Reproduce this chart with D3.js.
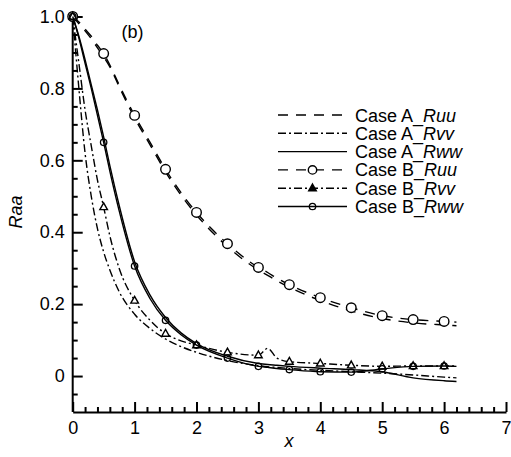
<!DOCTYPE html>
<html>
<head>
<meta charset="utf-8">
<script src="https://cdn.jsdelivr.net/npm/d3@7"></script>
<style>
  body { margin: 0; background: #fff; }
  svg { display: block; font-family: "Liberation Sans", Arial, sans-serif; }
  .axis path, .axis line { stroke: #000; stroke-width: 2; fill: none; }
  .axis text { font-size: 18px; fill: #000; font-family: "Liberation Sans", Arial, sans-serif; }
  .curve { fill: none; stroke: #000; stroke-width: 1.4; }
</style>
</head>
<body>
<svg id="chart" width="511" height="457"></svg>
<script>
// x positions shared by all curves (markers only at every 0.5)
const xGrid = [0, 0.1, 0.2, 0.3, 0.4, 0.5, 0.6, 0.75, 1, 1.25, 1.5, 1.75, 2, 2.5, 3, 3.15, 3.3, 3.5, 4, 4.5, 5, 5.5, 6, 6.2];

const caseA_Ruu = [1, 0.98, 0.96, 0.938, 0.913, 0.888, 0.86, 0.805, 0.718, 0.643, 0.568, 0.503, 0.448, 0.36, 0.295, 0.28, 0.265, 0.247, 0.21, 0.181, 0.16, 0.148, 0.142, 0.14];
const caseA_Rvv = [1, 0.8, 0.62, 0.5, 0.41, 0.345, 0.295, 0.235, 0.172, 0.132, 0.103, 0.082, 0.066, 0.043, 0.029, 0.026, 0.024, 0.021, 0.016, 0.012, 0.008, 0.003, -0.003, -0.005];
const caseA_Rww = [1, 0.945, 0.88, 0.81, 0.74, 0.665, 0.585, 0.475, 0.318, 0.225, 0.163, 0.12, 0.09, 0.055, 0.035, 0.032, 0.03, 0.027, 0.022, 0.018, 0.012, -0.005, -0.013, -0.015];
const caseB_Ruu = [1, 0.985, 0.965, 0.945, 0.92, 0.897, 0.865, 0.81, 0.725, 0.65, 0.575, 0.51, 0.455, 0.368, 0.302, 0.288, 0.272, 0.254, 0.218, 0.19, 0.168, 0.157, 0.152, 0.15];
const caseB_Rvv = [1, 0.87, 0.74, 0.64, 0.545, 0.47, 0.39, 0.3, 0.21, 0.155, 0.118, 0.098, 0.086, 0.066, 0.058, 0.077, 0.05, 0.04, 0.035, 0.03, 0.027, 0.028, 0.028, 0.028];
const caseB_Rww = [1, 0.94, 0.87, 0.8, 0.725, 0.65, 0.57, 0.46, 0.306, 0.215, 0.155, 0.115, 0.086, 0.05, 0.027, 0.024, 0.021, 0.018, 0.012, 0.011, 0.02, 0.027, 0.028, 0.027];

const xTicks = [0, 1, 2, 3, 4, 5, 6, 7];
const yTicks = [0, 0.2, 0.4, 0.6, 0.8, 1.0];
const yTickLabels = ["0", "0.2", "0.4", "0.6", "0.8", "1.0"];
const xMinor = [0.2,0.4,0.6,0.8,1.2,1.4,1.6,1.8,2.2,2.4,2.6,2.8,3.2,3.4,3.6,3.8,4.2,4.4,4.6,4.8,5.2,5.4,5.6,5.8,6.2,6.4,6.6,6.8];
const yMinor = [-0.05, 0.05, 0.1, 0.15, 0.25, 0.3, 0.35, 0.45, 0.5, 0.55, 0.65, 0.7, 0.75, 0.85, 0.9, 0.95];

const seriesNames = ["Case A_", "Case A_", "Case A_", "Case B_", "Case B_", "Case B_"];
const seriesComps = ["Ruu", "Rvv", "Rww", "Ruu", "Rvv", "Rww"];

const dashRuu = "10,8";
const dashRvv = "8,3,2,3";

const series = [
  { values: caseA_Ruu, dash: dashRuu, marker: null },
  { values: caseA_Rvv, dash: dashRvv, marker: null },
  { values: caseA_Rww, dash: null, marker: null },
  { values: caseB_Ruu, dash: dashRuu, marker: "circle" },
  { values: caseB_Rvv, dash: dashRvv, marker: "triangle" },
  { values: caseB_Rww, dash: null, marker: "small" }
];

const svg = d3.select("#chart");
svg.append("rect").attr("width", 511).attr("height", 457).attr("fill", "#fff");

const x = d3.scaleLinear().domain([0, 7]).range([72.7, 506]);
const y = d3.scaleLinear().domain([-0.1, 1.0]).range([412, 16.5]);

// minor ticks
svg.append("g").attr("class", "axis")
  .attr("transform", "translate(0,412)")
  .call(d3.axisBottom(x).tickValues(xMinor).tickSize(-5).tickSizeOuter(0).tickFormat(""))
  .call(g => g.select(".domain").remove());
svg.append("g").attr("class", "axis")
  .attr("transform", "translate(72.7,0)")
  .call(d3.axisLeft(y).tickValues(yMinor).tickSize(-5).tickSizeOuter(0).tickFormat(""))
  .call(g => g.select(".domain").remove());

// major axes
svg.append("g").attr("class", "axis")
  .attr("transform", "translate(0,412)")
  .call(d3.axisBottom(x).tickValues(xTicks).tickSize(-10).tickSizeOuter(0).tickPadding(9)
    .tickFormat(d => String(d)));
svg.append("g").attr("class", "axis")
  .attr("transform", "translate(72.7,0)")
  .call(d3.axisLeft(y).tickValues(yTicks).tickSize(-10).tickSizeOuter(0).tickPadding(8)
    .tickFormat((d, i) => yTickLabels[i]))
  .call(g => g.select(".domain").attr("d", "M0," + y(-0.1) + "V" + y(1.0)));

// curves
const line = d3.line()
  .x((d, i) => x(xGrid[i]))
  .y(d => y(d))
  .curve(d3.curveMonotoneX);

const triPath = "M0,-4.2L3.8,2.6L-3.8,2.6Z";

function drawMarker(g, kind, cx, cy, legend) {
  if (kind === "circle") {
    g.append("circle").attr("cx", cx).attr("cy", cy).attr("r", legend ? 4.2 : 4.8)
      .attr("fill", "#fff").attr("stroke", "#000").attr("stroke-width", 1.4);
  } else if (kind === "triangle") {
    g.append("path").attr("d", triPath).attr("transform", "translate(" + cx + "," + cy + ")")
      .attr("fill", legend ? "#000" : "#fff").attr("stroke", "#000").attr("stroke-width", 1.4);
  } else if (kind === "small") {
    g.append("circle").attr("cx", cx).attr("cy", cy).attr("r", 3.2)
      .attr("fill", "none").attr("stroke", "#000").attr("stroke-width", 1.3);
  }
}

series.forEach(s => {
  svg.append("path")
    .datum(s.values)
    .attr("class", "curve")
    .attr("d", line)
    .attr("stroke-dasharray", s.dash);
  if (s.marker) {
    const mg = svg.append("g");
    s.values.forEach((v, i) => {
      const xv = xGrid[i];
      if (Math.abs(xv * 2 - Math.round(xv * 2)) < 1e-9 && xv <= 6) {
        drawMarker(mg, s.marker, x(xv), y(v), false);
      }
    });
  }
});

// panel label
svg.append("text").attr("x", 121.5).attr("y", 38).attr("font-size", 18).text("(b)");

// axis titles
svg.append("text")
  .attr("transform", "translate(22,212) rotate(-90)")
  .attr("text-anchor", "middle").attr("font-size", 18).attr("font-style", "italic")
  .text("Raa");
svg.append("text")
  .attr("x", 289).attr("y", 447)
  .attr("text-anchor", "middle").attr("font-size", 18).attr("font-style", "italic")
  .text("x");

// legend
const legend = svg.append("g");
series.forEach((s, i) => {
  const ly = 115 + i * 18.3;
  legend.append("line")
    .attr("x1", 278).attr("x2", 347).attr("y1", ly).attr("y2", ly)
    .attr("stroke", "#000").attr("stroke-width", 1.4)
    .attr("stroke-dasharray", s.dash);
  if (s.marker) drawMarker(legend, s.marker, 312.5, ly, true);
  const t = legend.append("text").attr("x", 355).attr("y", ly + 6.5).attr("font-size", 18);
  t.append("tspan").text(seriesNames[i]);
  t.append("tspan").attr("font-style", "italic").text(seriesComps[i]);
});
</script>
</body>
</html>
